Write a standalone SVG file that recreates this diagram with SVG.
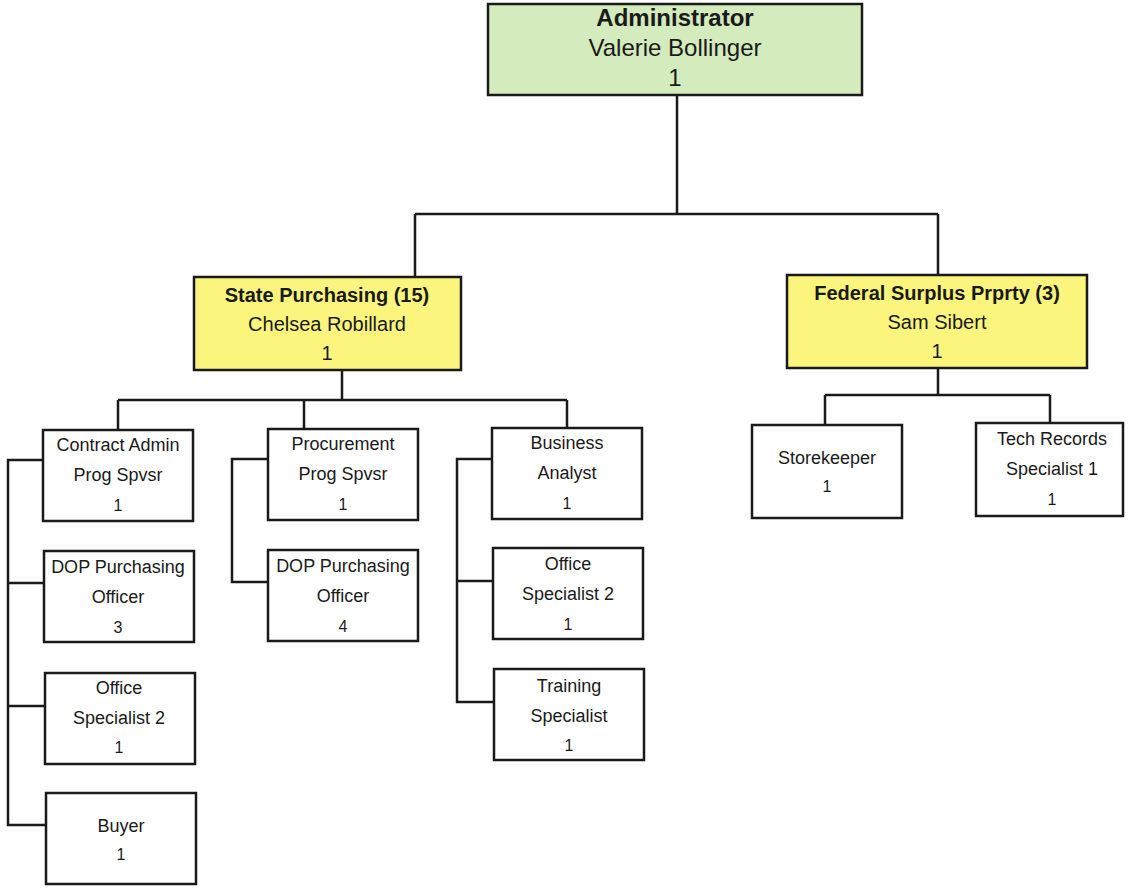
<svg xmlns="http://www.w3.org/2000/svg" width="1128" height="888" viewBox="0 0 1128 888">
<style>
.box{fill:#fff;stroke:#1a1a1a;stroke-width:2.5}
.green{fill:#d3ebbd}
.yellow{fill:#fbf57e}
.t{font-family:"Liberation Sans",Arial,sans-serif;fill:#1a1a1a;text-anchor:middle}
.big{font-size:24px}
.mid{font-size:20px}
.sm{font-size:18px}
.num{font-size:16px}
.b{font-weight:bold}
.c{fill:none;stroke:#1a1a1a;stroke-width:2.5}
</style>
<rect width="1128" height="888" fill="#fff"/>
<g id="connectors">
<path class="c" d="M677 95V214M415 214H938M415 214V277M938 214V275"/>
<path class="c" d="M342 370V400M118 400H567M118 400V430M304 400V429M567 400V428"/>
<path class="c" d="M938 368V395M825 395H1050M825 395V425M1050 395V423"/>
<path class="c" d="M43 460H8V825H46M8 583H44M8 706H45"/>
<path class="c" d="M268 459H232V582H268"/>
<path class="c" d="M492 459H457V702H494M457 581H493"/>
</g>
<g id="admin">
<rect class="box green" x="488" y="4" width="374" height="91"/>
<text class="t big b" x="675" y="26">Administrator</text>
<text class="t big" x="675" y="56">Valerie Bollinger</text>
<text class="t big" x="675" y="86">1</text>
</g>
<g id="state-purchasing">
<rect class="box yellow" x="194" y="277" width="267" height="93"/>
<text class="t mid b" x="327" y="302">State Purchasing (15)</text>
<text class="t mid" x="327" y="331">Chelsea Robillard</text>
<text class="t mid" x="327" y="360">1</text>
</g>
<g id="federal-surplus">
<rect class="box yellow" x="787" y="275" width="300" height="93"/>
<text class="t mid b" x="937" y="300">Federal Surplus Prprty (3)</text>
<text class="t mid" x="937" y="329">Sam Sibert</text>
<text class="t mid" x="937" y="358">1</text>
</g>
<g id="contract-admin">
<rect class="box" x="43" y="430" width="150" height="91"/>
<text class="t sm" x="118" y="451">Contract Admin</text>
<text class="t sm" x="118" y="481">Prog Spvsr</text>
<text class="t num" x="118" y="511">1</text>
</g>
<g id="dop-officer-3">
<rect class="box" x="44" y="551" width="150" height="91"/>
<text class="t sm" x="118" y="573">DOP Purchasing</text>
<text class="t sm" x="118" y="603">Officer</text>
<text class="t num" x="118" y="633">3</text>
</g>
<g id="office-spec-left">
<rect class="box" x="45" y="673" width="150" height="91"/>
<text class="t sm" x="119" y="694">Office</text>
<text class="t sm" x="119" y="724">Specialist 2</text>
<text class="t num" x="119" y="753">1</text>
</g>
<g id="buyer">
<rect class="box" x="46" y="793" width="150" height="91"/>
<text class="t sm" x="121" y="832">Buyer</text>
<text class="t num" x="121" y="860">1</text>
</g>
<g id="procurement">
<rect class="box" x="268" y="429" width="150" height="91"/>
<text class="t sm" x="343" y="450">Procurement</text>
<text class="t sm" x="343" y="480">Prog Spvsr</text>
<text class="t num" x="343" y="510">1</text>
</g>
<g id="dop-officer-4">
<rect class="box" x="268" y="550" width="150" height="91"/>
<text class="t sm" x="343" y="572">DOP Purchasing</text>
<text class="t sm" x="343" y="602">Officer</text>
<text class="t num" x="343" y="632">4</text>
</g>
<g id="business-analyst">
<rect class="box" x="492" y="428" width="150" height="91"/>
<text class="t sm" x="567" y="449">Business</text>
<text class="t sm" x="567" y="479">Analyst</text>
<text class="t num" x="567" y="509">1</text>
</g>
<g id="office-spec-right">
<rect class="box" x="493" y="548" width="150" height="91"/>
<text class="t sm" x="568" y="570">Office</text>
<text class="t sm" x="568" y="600">Specialist 2</text>
<text class="t num" x="568" y="630">1</text>
</g>
<g id="training">
<rect class="box" x="494" y="669" width="150" height="91"/>
<text class="t sm" x="569" y="692">Training</text>
<text class="t sm" x="569" y="722">Specialist</text>
<text class="t num" x="569" y="751">1</text>
</g>
<g id="storekeeper">
<rect class="box" x="752" y="425" width="150" height="93"/>
<text class="t sm" x="827" y="464">Storekeeper</text>
<text class="t num" x="827" y="492">1</text>
</g>
<g id="tech-records">
<rect class="box" x="976" y="423" width="147" height="93"/>
<text class="t sm" x="1052" y="445">Tech Records</text>
<text class="t sm" x="1052" y="475">Specialist 1</text>
<text class="t num" x="1052" y="505">1</text>
</g>
</svg>
